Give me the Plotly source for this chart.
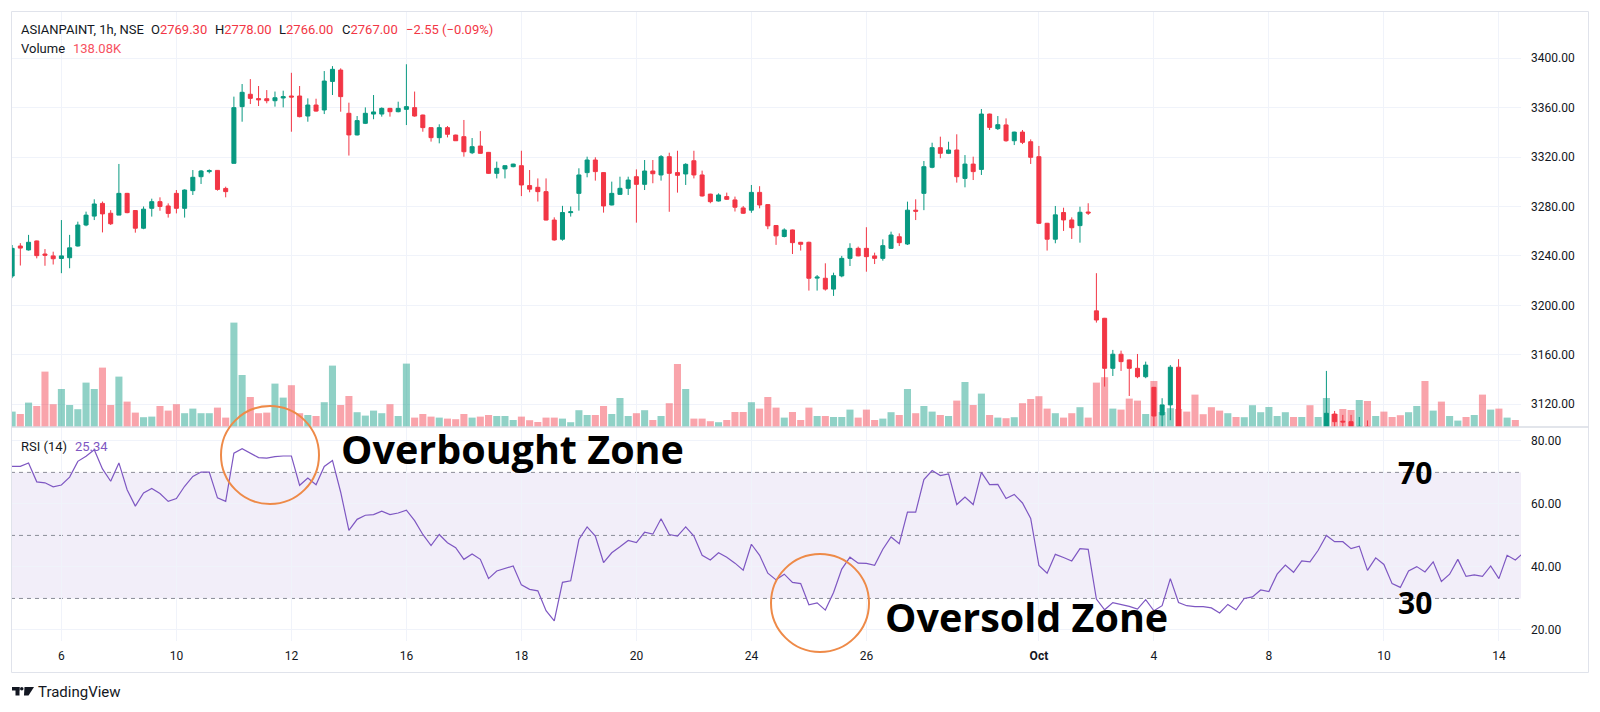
import plotly.graph_objects as go

# ASIANPAINT 1h, NSE - trading days shown (7 hourly bars per day, first bar 09:15)
trading_days = ['Sep 5', 'Sep 6', 'Sep 9', 'Sep 10', 'Sep 11', 'Sep 12', 'Sep 13',
                'Sep 16', 'Sep 17', 'Sep 18', 'Sep 19', 'Sep 20', 'Sep 23', 'Sep 24',
                'Sep 25', 'Sep 26', 'Sep 27', 'Sep 30', 'Oct 1', 'Oct 3', 'Oct 4',
                'Oct 7', 'Oct 8', 'Oct 9', 'Oct 10', 'Oct 11', 'Oct 14']
bars_per_day = 7

tick_days = ['Sep 6', 'Sep 10', 'Sep 12', 'Sep 16', 'Sep 18', 'Sep 20', 'Sep 24',
             'Sep 26', 'Oct 1', 'Oct 4', 'Oct 8', 'Oct 10', 'Oct 14']
tick_texts = ['6', '10', '12', '16', '18', '20', '24', '26', '<b>Oct</b>', '4', '8', '10', '14']

opens = [
    3232.0, 3223.7, 3248.0, 3244.8, 3252.1, 3241.5, 3240.0, 3237.9, 3238.5, 3248.0,
    3265.0, 3272.2, 3282.5, 3274.5, 3273.0, 3290.6, 3276.7, 3262.4, 3278.5, 3283.9,
    3280.4, 3290.6, 3278.5, 3292.8, 3304.1, 3308.2, 3309.2, 3294.6, 3314.9, 3360.8,
    3370.8, 3367.3, 3367.2, 3365.6, 3367.8, 3369.4, 3369.4, 3353.2, 3362.1, 3358.1,
    3381.2, 3390.4, 3355.4, 3337.9, 3347.3, 3354.8, 3354.8, 3359.4, 3356.7, 3358.6,
    3360.0, 3354.0, 3343.8, 3335.7, 3343.8, 3337.8, 3336.5, 3323.5, 3328.9, 3323.8,
    3306.8, 3310.4, 3312.2, 3313.0, 3296.9, 3295.5, 3292.0, 3269.0, 3253.5, 3275.0,
    3290.6, 3307.4, 3317.6, 3307.4, 3281.2, 3289.8, 3294.7, 3304.1, 3297.9, 3308.7,
    3305.5, 3320.3, 3307.4, 3306.3, 3317.0, 3305.5, 3290.0, 3284.4, 3288.0, 3285.3,
    3278.8, 3277.0, 3291.4, 3281.5, 3264.6, 3255.7, 3261.0, 3251.0, 3251.0, 3222.0,
    3221.9, 3213.1, 3223.8, 3238.0, 3246.1, 3246.1, 3240.0, 3238.0, 3246.1, 3255.5,
    3249.6, 3277.0, 3290.6, 3311.7, 3327.6, 3323.0, 3325.7, 3302.7, 3314.3, 3310.0,
    3354.8, 3343.0, 3346.0, 3333.2, 3340.2, 3332.4, 3320.3, 3266.4, 3253.5, 3275.1,
    3269.1, 3264.5, 3275.5, 3195.5, 3189.5, 3149.0, 3160.4, 3155.8, 3149.0, 3142.2,
    3133.6, 3111.3, 3119.4, 3149.9, 3090.0, 3083.0, 3074.0, 3071.0, 3064.0, 3056.0,
    3063.0, 3059.0, 3066.0, 3069.0, 3075.0, 3076.0, 3084.0, 3089.0, 3085.0, 3091.0,
    3090.0, 3096.0, 3112.0, 3106.2, 3105.8, 3098.0, 3102.0, 3090.0, 3095.0, 3088.0,
    3077.0, 3072.0, 3079.0, 3082.0, 3078.0, 3084.0, 3075.0, 3079.0, 3087.0, 3078.0,
    3080.0, 3078.0, 3085.0, 3076.0, 3090.0]
highs = [
    3238.0, 3248.8, 3250.3, 3257.0, 3252.4, 3245.5, 3243.4, 3269.0, 3257.0, 3267.7,
    3275.8, 3285.8, 3284.0, 3277.0, 3314.4, 3291.0, 3277.0, 3280.0, 3286.3, 3287.4,
    3282.5, 3293.3, 3293.8, 3309.5, 3309.5, 3310.0, 3309.5, 3296.0, 3368.9, 3379.1,
    3383.1, 3377.5, 3374.2, 3373.0, 3373.7, 3388.2, 3377.5, 3367.5, 3367.2, 3389.6,
    3393.6, 3391.8, 3364.0, 3353.2, 3360.2, 3370.2, 3360.2, 3359.8, 3364.8, 3395.1,
    3373.0, 3354.3, 3344.1, 3346.5, 3345.1, 3338.1, 3350.0, 3335.4, 3341.0, 3324.1,
    3316.3, 3313.3, 3314.6, 3325.1, 3309.5, 3302.7, 3302.7, 3271.2, 3280.5, 3280.0,
    3310.9, 3320.3, 3319.8, 3307.7, 3300.1, 3304.1, 3304.1, 3310.0, 3317.6, 3317.6,
    3321.6, 3323.5, 3325.1, 3315.0, 3325.1, 3309.0, 3290.3, 3290.6, 3291.2, 3288.0,
    3280.4, 3297.4, 3296.4, 3281.8, 3264.9, 3262.3, 3261.3, 3251.3, 3251.5, 3224.5,
    3234.0, 3226.4, 3240.0, 3250.2, 3247.5, 3263.2, 3242.6, 3253.4, 3259.6, 3258.2,
    3283.9, 3285.8, 3316.8, 3331.6, 3336.5, 3332.4, 3338.4, 3321.6, 3320.3, 3358.9,
    3355.1, 3353.2, 3351.3, 3340.5, 3341.9, 3334.3, 3329.0, 3266.7, 3280.4, 3279.0,
    3271.2, 3279.8, 3282.6, 3226.0, 3189.8, 3163.9, 3163.3, 3156.1, 3160.6, 3154.4,
    3133.9, 3124.8, 3151.6, 3156.4, 3094.0, 3086.0, 3080.0, 3076.0, 3066.0, 3066.0,
    3065.0, 3068.0, 3072.0, 3078.0, 3080.0, 3086.0, 3092.0, 3090.0, 3094.0, 3093.0,
    3098.0, 3146.9, 3114.5, 3111.3, 3111.3, 3109.6, 3106.8, 3097.0, 3097.0, 3090.0,
    3080.0, 3082.0, 3086.0, 3084.0, 3087.0, 3086.0, 3081.0, 3090.0, 3088.0, 3082.0,
    3082.0, 3088.0, 3086.0, 3092.0, 3093.0]
lows = [
    3221.0, 3222.0, 3232.2, 3244.3, 3238.0, 3232.0, 3233.0, 3226.0, 3230.0, 3247.6,
    3264.0, 3269.0, 3259.0, 3265.0, 3273.0, 3274.5, 3258.8, 3261.6, 3271.8, 3276.5,
    3271.0, 3274.4, 3271.0, 3289.3, 3298.2, 3306.8, 3292.8, 3287.4, 3314.9, 3348.6,
    3362.9, 3361.3, 3363.5, 3360.8, 3360.2, 3340.5, 3352.1, 3348.6, 3356.7, 3354.8,
    3370.2, 3356.7, 3321.2, 3337.5, 3346.7, 3350.6, 3352.7, 3352.7, 3356.2, 3345.9,
    3352.7, 3340.5, 3332.5, 3331.1, 3335.9, 3333.0, 3320.3, 3322.4, 3322.8, 3306.3,
    3302.7, 3302.7, 3311.7, 3288.4, 3291.5, 3284.0, 3268.7, 3252.3, 3252.3, 3271.8,
    3276.6, 3303.6, 3300.9, 3275.0, 3280.9, 3289.3, 3289.3, 3266.9, 3293.3, 3298.8,
    3300.9, 3275.7, 3291.2, 3297.4, 3302.7, 3288.0, 3282.6, 3284.0, 3285.3, 3275.9,
    3273.9, 3274.9, 3278.5, 3261.6, 3248.9, 3255.0, 3241.5, 3244.3, 3211.9, 3211.9,
    3211.9, 3207.6, 3222.7, 3231.8, 3239.7, 3227.2, 3233.4, 3236.1, 3245.8, 3248.0,
    3248.8, 3269.0, 3277.0, 3310.9, 3319.0, 3322.4, 3299.3, 3295.5, 3301.4, 3305.5,
    3341.9, 3341.9, 3332.4, 3329.7, 3330.5, 3314.4, 3265.8, 3244.3, 3250.2, 3260.2,
    3253.7, 3250.7, 3273.1, 3186.0, 3134.2, 3142.8, 3146.9, 3126.6, 3141.0, 3141.0,
    3101.8, 3095.0, 3107.0, 3086.0, 3080.0, 3070.0, 3068.0, 3060.0, 3052.0, 3054.0,
    3056.0, 3057.0, 3062.0, 3066.0, 3070.0, 3074.0, 3082.0, 3082.0, 3083.0, 3086.0,
    3088.0, 3092.0, 3098.0, 3100.0, 3094.0, 3095.0, 3088.0, 3086.0, 3084.0, 3074.0,
    3068.0, 3070.0, 3076.0, 3074.0, 3076.0, 3072.0, 3073.0, 3077.0, 3076.0, 3076.0,
    3077.0, 3076.0, 3074.0, 3075.0, 3084.0]
closes = [
    3226.0, 3246.1, 3246.3, 3251.0, 3240.2, 3240.5, 3237.7, 3240.0, 3246.5, 3265.0,
    3273.0, 3282.0, 3274.0, 3266.0, 3290.6, 3275.0, 3262.4, 3277.8, 3283.9, 3280.0,
    3274.4, 3278.5, 3293.3, 3303.6, 3308.7, 3309.0, 3293.8, 3292.0, 3360.0, 3372.4,
    3367.5, 3366.3, 3365.6, 3368.0, 3368.9, 3368.6, 3352.7, 3362.1, 3357.2, 3381.5,
    3391.0, 3368.9, 3337.9, 3349.5, 3355.4, 3356.5, 3359.4, 3356.7, 3359.4, 3360.8,
    3353.2, 3343.8, 3335.7, 3343.8, 3338.4, 3333.2, 3324.3, 3328.4, 3323.0, 3306.8,
    3310.9, 3313.0, 3314.3, 3297.4, 3294.0, 3292.0, 3269.0, 3252.9, 3275.1, 3275.7,
    3305.5, 3317.6, 3308.2, 3280.4, 3290.6, 3294.7, 3301.4, 3297.9, 3308.7, 3306.5,
    3320.3, 3306.8, 3305.2, 3314.1, 3305.5, 3288.5, 3283.9, 3289.3, 3285.8, 3279.4,
    3274.5, 3291.4, 3281.2, 3264.3, 3256.2, 3261.0, 3250.7, 3249.4, 3221.9, 3222.8,
    3213.1, 3224.0, 3238.0, 3246.1, 3240.0, 3239.4, 3238.0, 3248.3, 3256.9, 3250.7,
    3277.0, 3276.2, 3312.2, 3327.6, 3323.0, 3325.7, 3304.1, 3314.3, 3308.2, 3354.8,
    3344.0, 3346.2, 3333.2, 3340.2, 3331.9, 3319.8, 3266.4, 3253.5, 3273.2, 3269.1,
    3262.8, 3275.3, 3274.7, 3188.1, 3149.0, 3160.4, 3154.4, 3149.0, 3142.2, 3151.6,
    3110.4, 3119.4, 3149.9, 3090.0, 3083.0, 3074.0, 3071.0, 3064.0, 3056.0, 3063.0,
    3059.0, 3066.0, 3069.0, 3075.0, 3076.0, 3084.0, 3089.0, 3085.0, 3091.0, 3090.0,
    3096.0, 3112.6, 3105.8, 3105.6, 3098.0, 3102.0, 3090.0, 3095.0, 3088.0, 3077.0,
    3072.0, 3079.0, 3082.0, 3078.0, 3084.0, 3075.0, 3079.0, 3087.0, 3078.0, 3080.0,
    3078.0, 3085.0, 3076.0, 3090.0, 3087.0]

# volume per bar, thousands of shares
volumes_k = [
    60, 77, 65, 122, 105, 277, 114, 190, 110, 89,
    222, 190, 297, 110, 252, 127, 72, 49, 52, 105,
    82, 114, 69, 92, 69, 69, 97, 47, 522, 260,
    150, 69, 72, 217, 147, 209, 69, 60, 55, 124,
    307, 110, 155, 74, 57, 82, 69, 114, 55, 317,
    47, 65, 52, 47, 42, 39, 65, 47, 52, 60,
    55, 55, 35, 52, 34, 25, 47, 47, 42, 24,
    84, 60, 60, 105, 65, 145, 55, 69, 84, 35,
    55, 119, 315, 190, 42, 42, 29, 24, 35, 75,
    75, 124, 92, 150, 97, 47, 75, 35, 97, 55,
    55, 50, 50, 87, 47, 87, 35, 42, 74, 60,
    190, 69, 105, 77, 60, 55, 132, 225, 110, 167,
    60, 47, 44, 49, 119, 140, 154, 92, 69, 47,
    69, 99, 47, 222, 249, 92, 87, 142, 132, 65,
    230, 75, 94, 90, 77, 162, 64, 99, 82, 69,
    50, 49, 109, 74, 100, 55, 74, 50, 50, 109,
    50, 145, 65, 90, 85, 135, 130, 55, 77, 50,
    59, 74, 105, 230, 82, 127, 55, 32, 50, 60,
    162, 87, 92, 47, 35]

rsi_values = [
    71.9, 71.9, 71.9, 73.0, 67.0, 66.7, 65.4, 66.0, 68.5, 73.5,
    75.1, 77.2, 71.1, 67.2, 73.0, 64.5, 59.3, 63.5, 64.9, 63.3,
    60.8, 61.7, 65.6, 68.7, 70.1, 70.1, 61.9, 60.8, 76.1, 77.5,
    76.0, 74.7, 74.5, 75.0, 75.2, 75.2, 65.9, 68.2, 66.1, 71.9,
    73.8, 63.7, 51.6, 55.1, 56.4, 56.6, 57.7, 56.6, 57.1, 58.0,
    54.7, 50.3, 46.8, 50.3, 47.7, 46.1, 42.4, 44.1, 42.4, 36.3,
    38.7, 39.6, 40.3, 34.3, 32.9, 32.4, 26.1, 22.9, 35.1, 35.6,
    48.7, 52.7, 49.8, 41.4, 44.5, 46.4, 48.4, 47.7, 51.0, 50.4,
    55.3, 50.3, 49.8, 52.7, 49.8, 43.7, 42.2, 44.5, 43.1, 41.2,
    39.0, 47.2, 43.7, 38.0, 35.9, 37.7, 35.1, 34.7, 28.0, 28.6,
    26.3, 31.9, 39.3, 43.1, 41.2, 41.1, 40.5, 45.6, 49.5, 47.4,
    57.4, 57.4, 67.7, 70.6, 69.0, 69.5, 59.8, 62.2, 59.8, 70.0,
    66.1, 66.2, 61.7, 63.0, 60.3, 55.4, 40.5, 38.0, 44.0, 43.0,
    41.9, 45.8, 45.6, 29.8, 26.4, 28.7, 28.2, 27.5, 26.6, 29.6,
    26.1, 27.7, 36.3, 28.7, 27.7, 27.4, 27.4, 27.0, 25.4, 28.1,
    26.4, 30.0, 30.5, 32.7, 32.2, 37.7, 40.6, 38.3, 41.9, 41.6,
    45.3, 50.0, 48.0, 48.0, 45.8, 46.6, 38.9, 42.9, 40.8, 34.7,
    33.5, 38.7, 40.1, 38.4, 41.6, 35.4, 37.7, 42.4, 37.0, 37.5,
    37.0, 40.3, 36.3, 43.7, 42.2, 44.5]

price_ticks = [3120, 3160, 3200, 3240, 3280, 3320, 3360, 3400]
rsi_ticks = [20, 40, 60, 80]
rsi_levels = [70, 50, 30]

UP = '#089981'
DOWN = '#F23645'
TEXT = '#131722'
GRID = '#F0F3FA'
BORDER = '#E0E3EB'

# pixel helpers for the plot area (x 11..1521, y 12..641)
L, R, T, B = 11, 1521, 12, 641


def px(x):
    return (x - L) / (R - L)


def py(y):
    return (B - y) / (B - T)


bar_x = list(range(len(opens)))
rsi_x = list(range(len(rsi_values)))
tick_vals = [trading_days.index(d) * bars_per_day for d in tick_days]
vol_colors = ['rgba(8,153,129,0.45)' if c >= o else 'rgba(242,54,69,0.45)'
              for o, c in zip(opens, closes)]

fig = go.Figure()

fig.add_trace(go.Bar(
    x=bar_x, y=volumes_k, marker=dict(color=vol_colors, line=dict(width=0)),
    xaxis='x', yaxis='y', hoverinfo='skip', showlegend=False))

fig.add_trace(go.Candlestick(
    x=bar_x, open=opens, high=highs, low=lows, close=closes,
    increasing=dict(line=dict(color=UP, width=1), fillcolor=UP),
    decreasing=dict(line=dict(color=DOWN, width=1), fillcolor=DOWN),
    whiskerwidth=0, xaxis='x', yaxis='y3', hoverinfo='skip', showlegend=False))

fig.add_trace(go.Scatter(
    x=rsi_x, y=rsi_values, mode='lines', line=dict(color='#7E57C2', width=1.2),
    xaxis='x', yaxis='y2', hoverinfo='skip', showlegend=False))

split = py(427)

fig.update_layout(
    width=1600, height=712, autosize=False,
    margin=dict(l=L, r=1600 - R, t=T, b=712 - B, pad=0),
    paper_bgcolor='white', plot_bgcolor='white',
    font=dict(family='Roboto, Arial, sans-serif', size=12, color=TEXT),
    bargap=0.14, boxgap=0.3, dragmode=False, showlegend=False,
    xaxis=dict(range=[0.864, 184.69], anchor='y2', tickvals=tick_vals, ticktext=tick_texts,
               showgrid=True, gridcolor=GRID, gridwidth=1, zeroline=False, showline=False,
               ticks='', ticklabelstandoff=6, rangeslider=dict(visible=False),
               tickfont=dict(size=12, color=TEXT)),
    yaxis=dict(domain=[split, 1], range=[0, 2075], visible=False, fixedrange=True),
    yaxis3=dict(overlaying='y', side='right', range=[3101.5, 3437.4], tickvals=price_ticks,
                tickformat='.2f', showgrid=True, gridcolor=GRID, zeroline=False,
                ticks='', ticklabelstandoff=9, tickfont=dict(size=12, color=TEXT)),
    yaxis2=dict(domain=[0, split], side='right', range=[16.5, 84.4], tickvals=rsi_ticks,
                tickformat='.2f', showgrid=True, gridcolor=GRID, zeroline=False,
                ticks='', ticklabelstandoff=9, tickfont=dict(size=12, color=TEXT)),
)

shapes = [
    # RSI band 30..70
    dict(type='rect', xref='paper', yref='y2', x0=0, x1=1, y0=30, y1=70,
         fillcolor='rgba(126,87,194,0.1)', line=dict(width=0), layer='below'),
    # outer frame and pane separator
    dict(type='rect', xref='paper', yref='paper', x0=px(11.5), x1=px(1588.5),
         y0=py(672.5), y1=py(11.5), line=dict(color=BORDER, width=1)),
    dict(type='line', xref='paper', yref='paper', x0=px(11.5), x1=px(1588.5),
         y0=split, y1=split, line=dict(color='#D9DCE4', width=1.5)),
    # orange highlight circles
    dict(type='circle', xref='paper', yref='paper', x0=px(221), x1=px(319),
         y0=py(504), y1=py(406), line=dict(color='#EE8A48', width=2)),
    dict(type='circle', xref='paper', yref='paper', x0=px(771), x1=px(869),
         y0=py(652), y1=py(554), line=dict(color='#EE8A48', width=2)),
    # TradingView logo
    dict(type='rect', xref='paper', yref='paper', x0=px(12), x1=px(19.5),
         y0=py(690.5), y1=py(687), fillcolor=TEXT, line=dict(width=0)),
    dict(type='rect', xref='paper', yref='paper', x0=px(15.5), x1=px(19.5),
         y0=py(695.5), y1=py(687), fillcolor=TEXT, line=dict(width=0)),
    dict(type='circle', xref='paper', yref='paper', x0=px(20), x1=px(23.5),
         y0=py(690.5), y1=py(687), fillcolor=TEXT, line=dict(width=0)),
    dict(type='path', xref='paper', yref='paper',
         path='M {} {} L {} {} L {} {} L {} {} Z'.format(
             px(24.5), py(687), px(34), py(687), px(28.5), py(695.5), px(24), py(695.5)),
         fillcolor=TEXT, line=dict(width=0)),
]
for lvl in rsi_levels:
    shapes.append(dict(type='line', xref='paper', yref='y2', x0=0, x1=1, y0=lvl, y1=lvl,
                       line=dict(color='#8A8D97', width=1, dash='4px,4px'), layer='below'))
fig.update_layout(shapes=shapes)


def label(x, y, text, size=13, color=TEXT, anchor='left', family=None):
    fig.add_annotation(x=px(x), y=py(y), xref='paper', yref='paper', text=text,
                       showarrow=False, xanchor=anchor, yanchor='middle',
                       font=dict(size=size, color=color,
                                 family=family or 'Roboto, Arial, sans-serif'))


red_span = "<span style='color:#F23645'>{}</span>"
label(19, 29.5, 'ASIANPAINT, 1h, NSE')
label(149, 29.5, 'O' + red_span.format('2769.30'))
label(213, 29.5, 'H' + red_span.format('2778.00'))
label(277, 29.5, 'L' + red_span.format('2766.00'))
label(340, 29.5, 'C' + red_span.format('2767.00'))
label(404, 29.5, red_span.format('\u22122.55 (\u22120.09%)'))
label(19, 48.5, 'Volume')
label(71, 48.5, '138.08K', color='#F7525F')
label(19, 446, 'RSI (14)')
label(73, 446, '25.34', color='#7E57C2')
label(36, 692, 'TradingView', size=15)

big_font = 'Open Sans, Noto Sans, sans-serif'
label(339, 449, '<b>Overbought Zone</b>', size=39.5, color='black', family=big_font)
label(883, 617, '<b>Oversold Zone</b>', size=39.5, color='black', family=big_font)
label(1415, 472, '<b>70</b>', size=30, color='black', anchor='center', family=big_font)
label(1415, 602, '<b>30</b>', size=30, color='black', anchor='center', family=big_font)

fig.write_html("out.html", config={'displayModeBar': False},
               post_script="document.body.style.margin='0';"
                           "document.body.style.overflow='hidden';")
